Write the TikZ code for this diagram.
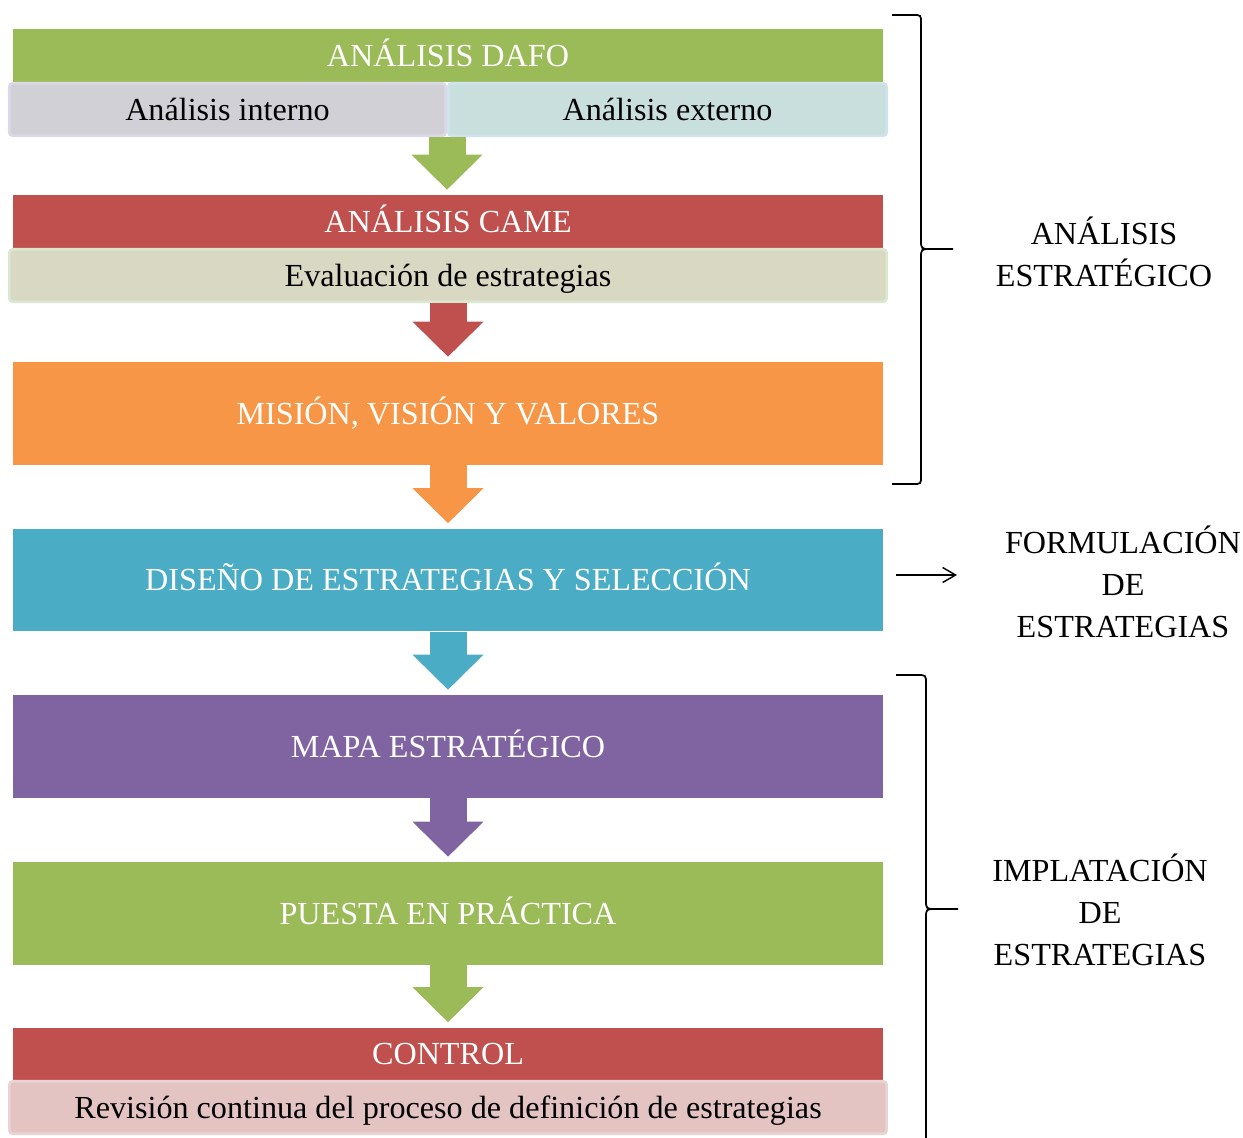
\documentclass[tikz,border=0pt]{standalone}
\usepackage{fontspec}
\setmainfont{Liberation Serif}
\usepackage{tikz}
\usetikzlibrary{arrows.meta, calc}
\definecolor{figVerde}{HTML}{9BBB59}
\definecolor{figRojo}{HTML}{C0504D}
\definecolor{figNaranja}{HTML}{F79646}
\definecolor{figAzul}{HTML}{4BACC6}
\definecolor{figMorado}{HTML}{8064A2}
\definecolor{rellenoLila}{HTML}{D2D0D7}
\definecolor{bordeLila}{HTML}{DCD8E8}
\definecolor{rellenoAzul}{HTML}{C9DFDD}
\definecolor{bordeAzul}{HTML}{D0E3EC}
\definecolor{rellenoOliva}{HTML}{D9D8C2}
\definecolor{bordeOliva}{HTML}{DCE7CF}
\definecolor{rellenoRosa}{HTML}{E3C4C3}
\definecolor{bordeRosa}{HTML}{EAD3D3}
\tikzset{
  etapa/.style={minimum width=17.4cm, inner sep=0pt, text=white, text height=12pt, text depth=0pt,
    font=\fontsize{18.3}{22}\selectfont},
  cabecera/.style={etapa, minimum height=1.06cm},
  bloque/.style={etapa, minimum height=2.06cm},
  detalle/.style={draw, line width=1.5pt, rounded corners=2pt, minimum height=1.05cm, inner sep=0pt,
    text height=12pt, text depth=0pt, text=black, font=\fontsize{18.3}{22}\selectfont},
  flecha/.style={line width=0.74cm, -{Triangle[width=1.42cm, length=0.7cm, line width=0pt]}, shorten >=0.1cm},
  llave/.style={line width=1pt},
  rotulo/.style={align=center, font=\fontsize{18.3}{23.8}\selectfont}
}

\begin{document}
\begin{tikzpicture}[x=0.02cm, y=-0.02cm]
\useasboundingbox (0,0) rectangle (1243,1138);
% ===== column of stages =====
\node[cabecera, fill=figVerde] (dafo) at (448,55.5) {ANÁLISIS DAFO};
\node[detalle, draw=bordeLila, fill=rellenoLila, minimum width=8.73cm] (dafoInt) at (227.5,109.5) {Análisis interno};
\node[detalle, draw=bordeAzul, fill=rellenoAzul, minimum width=8.77cm] (dafoExt) at (667.5,109.5) {Análisis externo};
\node[cabecera, fill=figRojo] (came) at (448,221.5) {ANÁLISIS CAME};
\node[detalle, draw=bordeOliva, fill=rellenoOliva, minimum width=17.55cm] (cameEval) at (448,275.5) {Evaluación de estrategias};
\node[bloque, fill=figNaranja] (mision) at (448,413.5) {MISIÓN, VISIÓN Y VALORES};
\node[bloque, fill=figAzul] (diseno) at (448,580) {DISEÑO DE ESTRATEGIAS Y SELECCIÓN};
\node[bloque, fill=figMorado] (mapa) at (448,746.5) {MAPA ESTRATÉGICO};
\node[bloque, fill=figVerde] (puesta) at (448,913.5) {PUESTA EN PRÁCTICA};
\node[cabecera, fill=figRojo] (control) at (448,1054) {CONTROL};
\node[detalle, draw=bordeRosa, fill=rellenoRosa, minimum width=17.55cm] (revision) at (448,1107.5) {Revisión continua del proceso de definición de estrategias};
% block arrows between stages
\draw[flecha, figVerde] (dafoInt.south east) -- (dafoInt.south east |- came.north);
\draw[flecha, figRojo] (cameEval.south) -- (mision.north);
\draw[flecha, figNaranja] (mision.south) -- (diseno.north);
\draw[flecha, figAzul] (diseno.south) -- (mapa.north);
\draw[flecha, figMorado] (mapa.south) -- (puesta.north);
\draw[flecha, figVerde] (puesta.south) -- (control.north);
% ===== right side: braces and phase labels =====
\draw[llave] (892,15) -- (913,15) .. controls (921,15) .. (921,23) -- (921,240) .. controls (921,249) .. (931,249) -- (953,249);
\draw[llave] (931,249) .. controls (921,249) .. (921,258) -- (921,476) .. controls (921,484) .. (913,484) -- (892,484);
\node[rotulo] (analisis) at (1104,252) {ANÁLISIS\\ESTRATÉGICO};
\coordinate (fIni) at (896,575);
\coordinate (fFin) at (957,575);
\draw[line width=0.8pt, -{Straight Barb[length=0.26cm, width=0.3cm]}] (fIni) -- (fFin);
\node[rotulo] (formulacion) at (1123,582) {FORMULACIÓN\\DE\\ESTRATEGIAS};
\draw[llave] (896,675) -- (917,675) .. controls (926,675) .. (926,684) -- (926,900) .. controls (926,909) .. (936,909) -- (958,909);
\draw[llave] (936,909) .. controls (926,909) .. (926,918) -- (926,1138);
\node[rotulo] (implantacion) at (1100,910) {IMPLATACIÓN\\DE\\ESTRATEGIAS};
\end{tikzpicture}
\end{document}
